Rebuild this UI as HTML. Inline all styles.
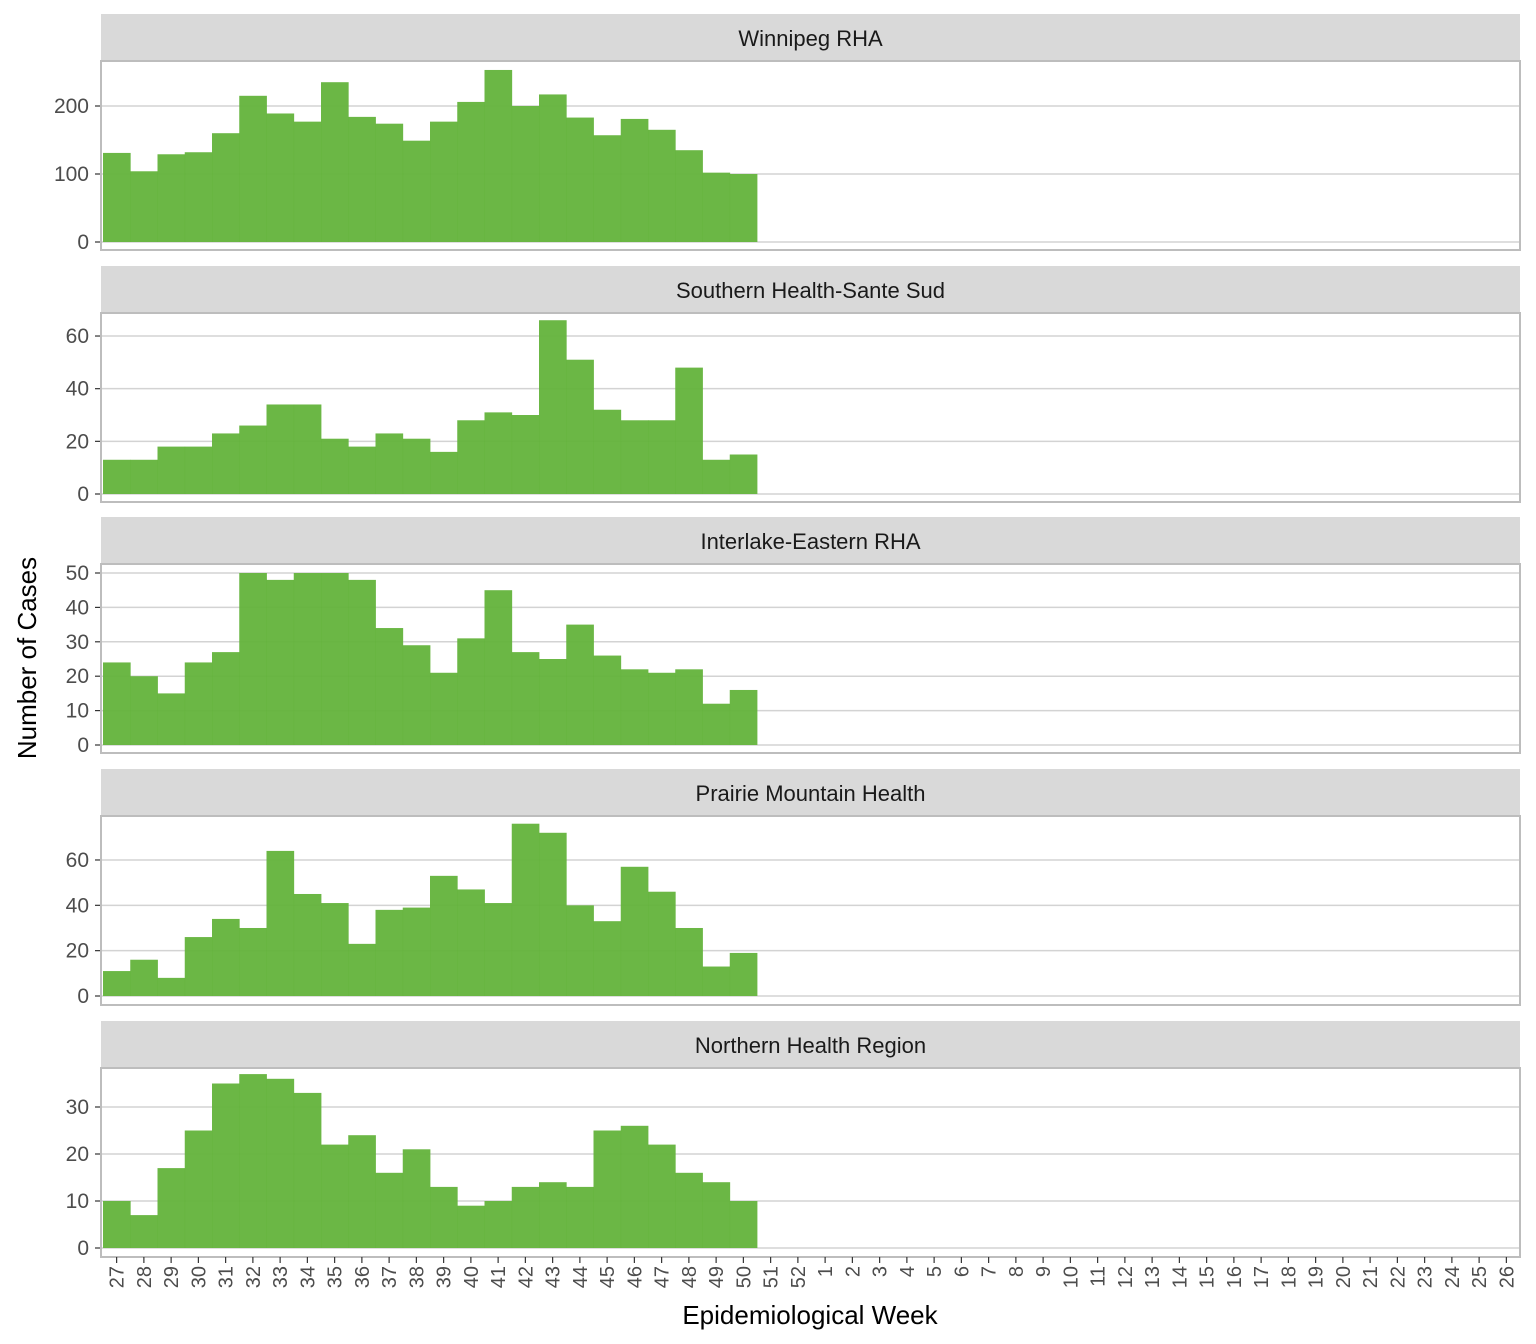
<!DOCTYPE html>
<html><head><meta charset="utf-8"><style>
body{margin:0;background:#fff}
svg{display:block;font-family:"Liberation Sans",Arial,sans-serif}
</style></head><body>
<svg id="c" width="1536" height="1344" viewBox="0 0 1536 1344" xmlns="http://www.w3.org/2000/svg"></svg>
<script>
const weeks = [27,28,29,30,31,32,33,34,35,36,37,38,39,40,41,42,43,44,45,46,47,48,49,50,51,52,1,2,3,4,5,6,7,8,9,10,11,12,13,14,15,16,17,18,19,20,21,22,23,24,25,26];
const regions = ["Winnipeg RHA","Southern Health-Sante Sud","Interlake-Eastern RHA","Prairie Mountain Health","Northern Health Region"];
const winnipeg = [131,104,129,132,160,215,189,177,235,184,174,149,177,206,253,200,217,183,157,181,165,135,102,100];
const southern = [13,13,18,18,23,26,34,34,21,18,23,21,16,28,31,30,66,51,32,28,28,48,13,15];
const interlake = [24,20,15,24,27,50,48,50,50,48,34,29,21,31,45,27,25,35,26,22,21,22,12,16];
const prairie = [11,16,8,26,34,30,64,45,41,23,38,39,53,47,41,76,72,40,33,57,46,30,13,19];
const northern = [10,7,17,25,35,37,36,33,22,24,16,21,13,9,10,13,14,13,25,26,22,16,14,10];
const ticks1 = [0,100,200];
const ticks2 = [0,20,40,60];
const ticks3 = [0,10,20,30,40,50];
const ticks4 = [0,20,40,60];
const ticks5 = [0,10,20,30];

const series=[winnipeg,southern,interlake,prairie,northern];
const tickSets=[ticks1,ticks2,ticks3,ticks4,ticks5];
const svg=document.getElementById('c');
const NS='http://www.w3.org/2000/svg';
function mk(t,a,p){const e=document.createElementNS(NS,t);for(const k in a)e.setAttribute(k,a[k]);(p||svg).appendChild(e);return e;}
const X0=103, STEP=27.25;
function xScale(i){return X0+i*STEP;}
const panelTop=[61,313,564,816,1068], panelH=189, L=101, R=1520;
const zeroYs=[242,494,745,996,1248];
const pxPer=[0.68,2.633,3.44,2.267,4.7];
regions.forEach((name,p)=>{
  const g=mk('g',{});
  
  
  const top=panelTop[p], zeroY=zeroYs[p];
  const yScale=v=>zeroY-v*pxPer[p];
  const strip=mk('rect',{x:L,y:top-47,width:R-L,height:47,fill:'#d9d9d9'},g);
  
  
  const st=mk('text',{x:(L+R)/2,y:top-15,'text-anchor':'middle','font-size':'22',fill:'#1a1a1a'},g);
  st.textContent=name;
  
  
  mk('rect',{x:L,y:top,width:R-L,height:panelH,fill:'#fff'},g);
  tickSets[p].forEach(t=>{
    const y=yScale(t);
    mk('line',{x1:L,x2:R,y1:y,y2:y,stroke:'#d3d3d3','stroke-width':1.5},g);
    mk('line',{x1:L-6,x2:L,y1:y,y2:y,stroke:'#333','stroke-width':1.2},g);
    const tl=mk('text',{x:L-12,y:y+7,'text-anchor':'end','font-size':'21',fill:'#4d4d4d'},g);
    tl.textContent=t;
    
    
  });
  series[p].forEach((v,i)=>{
    const b=mk('rect',{x:xScale(i),y:yScale(v),width:STEP+0.4,height:zeroY-yScale(v),fill:'#63b33b','fill-opacity':0.95},g);
    
    
  });
  mk('rect',{x:L,y:top,width:R-L,height:panelH,fill:'none',stroke:'#bdbdbd','stroke-width':2},g);
});
const axisY=1257;
weeks.forEach((w,i)=>{
  const x=xScale(i)+STEP/2;
  mk('line',{x1:x,x2:x,y1:axisY,y2:axisY+6,stroke:'#333','stroke-width':1.2});
  const t=mk('text',{x:0,y:0,transform:`translate(${x+7},${axisY+9}) rotate(-90)`,'text-anchor':'end','font-size':'20',fill:'#4d4d4d'});
  t.textContent=w;
  
  
});
const xt=mk('text',{x:810,y:1324,'text-anchor':'middle','font-size':'26',fill:'#000'});
xt.textContent='Epidemiological Week';


const yt=mk('text',{x:0,y:0,transform:'translate(36,658) rotate(-90)','text-anchor':'middle','font-size':'26',fill:'#000'});
yt.textContent='Number of Cases';


</script>
</body></html>
